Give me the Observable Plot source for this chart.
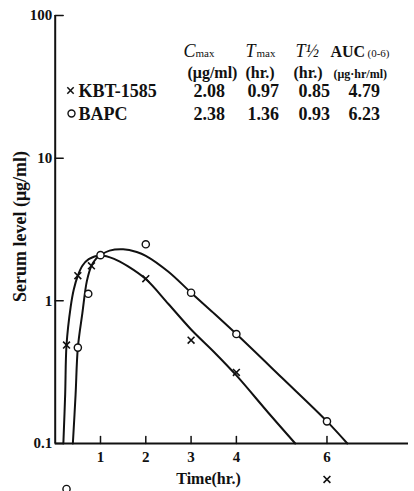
<!DOCTYPE html>
<html><head><meta charset="utf-8">
<script src="https://cdn.jsdelivr.net/npm/d3@7"></script>
<script src="https://cdn.jsdelivr.net/npm/@observablehq/plot@0.6"></script>
<style>body{margin:0;background:#fff}</style>
</head><body><div id="chart"></div>
<script>
// Observed data points (points below 0.1 are drawn below the axis)
const kbtTime  = [0.25, 0.5, 0.8, 2, 3, 4, 6];
const kbtLevel = [0.49, 1.5, 1.76, 1.43, 0.53, 0.315, 0.056];
const bapcTime  = [0.25, 0.5, 0.73, 1, 2, 3, 4, 6];
const bapcLevel = [0.048, 0.47, 1.12, 2.09, 2.49, 1.14, 0.585, 0.143];

// Fitted curves
const kbtCurveTime  = [0.18, 0.22, 0.25, 0.34, 0.41, 0.5, 0.6, 0.74, 1.0, 1.3, 1.6, 2.0, 2.5, 3.0, 3.5, 4.0, 4.7, 5.3];
const kbtCurveLevel = [0.1, 0.22, 0.49, 0.9, 1.2, 1.5, 1.76, 1.96, 2.08, 1.97, 1.75, 1.42, 0.95, 0.63, 0.44, 0.3, 0.165, 0.1];
const bapcCurveTime  = [0.39, 0.45, 0.5, 0.6, 0.7, 0.8, 0.9, 1.0, 1.2, 1.5, 1.8, 2.0, 2.5, 3.0, 3.5, 4.0, 5.0, 6.0, 6.45];
const bapcCurveLevel = [0.1, 0.22, 0.47, 0.82, 1.38, 1.76, 1.97, 2.09, 2.25, 2.3, 2.2, 2.07, 1.6, 1.14, 0.82, 0.585, 0.29, 0.143, 0.1];

// Ticks
const yTicks = [0.1, 1, 10, 100];
const yTickLabels = ["0.1", "1", "10", "100"];
const xTicks = [1, 2, 3, 4, 6];
const xTickLabels = ["1", "2", "3", "4", "6"];

// Table
const seriesNames = ["KBT-1585", "BAPC"];
const statSymbols = ["C", "T", "T½", "AUC"];
const statSubs = ["max", "max", "", "(0-6)"];
const statUnits = ["(μg/ml)", "(hr.)", "(hr.)", "(μg·hr/ml)"];
const kbtStats = ["2.08", "0.97", "0.85", "4.79"];
const bapcStats = ["2.38", "1.36", "0.93", "6.23"];

const xLabel = "Time(hr.)";
const yLabel = "Serum level (μg/ml)";

const FONT = "'Liberation Serif', 'DejaVu Serif', serif";
const INK = "#111";
const ML = 54.7, MT = 15, MR = 6, MB = 48;

const kbtPts = kbtTime.map((t, i) => ({t, v: kbtLevel[i]}));
const bapcPts = bapcTime.map((t, i) => ({t, v: bapcLevel[i]}));
const kbtCurve = kbtCurveTime.map((t, i) => ({t, v: kbtCurveLevel[i]}));
const bapcCurve = bapcCurveTime.map((t, i) => ({t, v: bapcCurveLevel[i]}));

const tickShape = {draw(ctx, l) { ctx.moveTo(0, 0); ctx.lineTo(0, -l); }};

function label(text, px, py, opts = {}) {
  return Plot.text([text], {
    text: d => d, frameAnchor: "top-left", dx: px - ML, dy: py - MT,
    textAnchor: "start", lineAnchor: "bottom",
    fontFamily: FONT, fontWeight: "bold", fill: INK, fontSize: 17, ...opts
  });
}

const symX = [183, 245, 295, 330];
const subX = [195, 256, 0, 367];
const unitX = [187, 245, 293, 333];
const valX = [193, 247, 298, 348];

const tableMarks = [];
statSymbols.forEach((s, i) => {
  const italic = s !== "AUC";
  tableMarks.push(label(s, symX[i], 56, {fontStyle: italic ? "italic" : "normal", fontWeight: italic ? "normal" : "bold", fontSize: italic ? 18 : 16}));
  if (statSubs[i]) tableMarks.push(label(statSubs[i], subX[i], 56, {fontSize: 11, fontWeight: "normal"}));
  tableMarks.push(label(statUnits[i], unitX[i], 77, {fontSize: i === 3 ? 12 : 16}));
  tableMarks.push(label(kbtStats[i], valX[i], 96, {fontSize: 18}));
  tableMarks.push(label(bapcStats[i], valX[i], 119, {fontSize: 18}));
});
tableMarks.push(label(seriesNames[0], 78, 96, {fontSize: 18}));
tableMarks.push(label(seriesNames[1], 78, 119, {fontSize: 18}));
tableMarks.push(Plot.dot([0], {frameAnchor: "top-left", dx: 70 - ML, dy: 90 - MT, symbol: "times", r: 3, stroke: INK, strokeWidth: 1.5}));
tableMarks.push(Plot.dot([0], {frameAnchor: "top-left", dx: 71 - ML, dy: 113 - MT, symbol: "circle", r: 3.5, stroke: INK, fill: "white", strokeWidth: 1.4}));

const chart = Plot.plot({
  width: 414, height: 491,
  marginLeft: ML, marginRight: MR, marginTop: MT, marginBottom: MB,
  style: {fontFamily: FONT, background: "white", color: INK},
  x: {domain: [0, 7.8], axis: null},
  y: {type: "log", domain: [0.1, 100], axis: null},
  marks: [
    // axes lines
    Plot.ruleX([0], {y1: 0.1, y2: 100, stroke: INK, strokeWidth: 2}),
    Plot.ruleY([0.1], {x1: 0, x2: 7.8, stroke: INK, strokeWidth: 2}),
    // inward ticks
    Plot.vector(yTicks, {x: 0, y: d => d, length: 8, rotate: 90, anchor: "start", shape: tickShape, stroke: INK, strokeWidth: 1.5}),
    Plot.vector(xTicks, {x: d => d, y: 0.1, length: 7, rotate: 0, anchor: "start", shape: tickShape, stroke: INK, strokeWidth: 1.5}),
    // tick labels
    Plot.text(yTicks, {x: 0, y: d => d, text: (d, i) => yTickLabels[i], dx: -3, textAnchor: "end", lineAnchor: "middle", fontSize: 15, fontWeight: "bold", fontFamily: FONT, fill: INK}),
    Plot.text(xTicks, {x: d => d, y: 0.1, text: (d, i) => xTickLabels[i], dy: 18, lineAnchor: "bottom", fontSize: 15, fontWeight: "bold", fontFamily: FONT, fill: INK}),
    // axis titles
    Plot.text([xLabel], {text: d => d, frameAnchor: "bottom-left", dx: 208 - ML, dy: 40, lineAnchor: "bottom", textAnchor: "middle", fontSize: 16, fontWeight: "bold", fontFamily: FONT, fill: INK}),
    Plot.text([yLabel], {text: d => d, frameAnchor: "left", dx: 20 - ML, dy: -3, rotate: -90, textAnchor: "middle", lineAnchor: "middle", fontSize: 18, fontWeight: "bold", fontFamily: FONT, fill: INK}),
    // curves
    Plot.line(kbtCurve, {x: "t", y: "v", curve: "catmull-rom", stroke: INK, strokeWidth: 2}),
    Plot.line(bapcCurve, {x: "t", y: "v", curve: "catmull-rom", stroke: INK, strokeWidth: 2}),
    // points
    Plot.dot(kbtPts, {x: "t", y: "v", symbol: "times", r: 3.2, stroke: INK, strokeWidth: 1.6}),
    Plot.dot(bapcPts, {x: "t", y: "v", symbol: "circle", r: 3.6, stroke: INK, fill: "white", strokeWidth: 1.4}),
    ...tableMarks
  ]
});
document.getElementById("chart").appendChild(chart);
</script>
</body></html>
